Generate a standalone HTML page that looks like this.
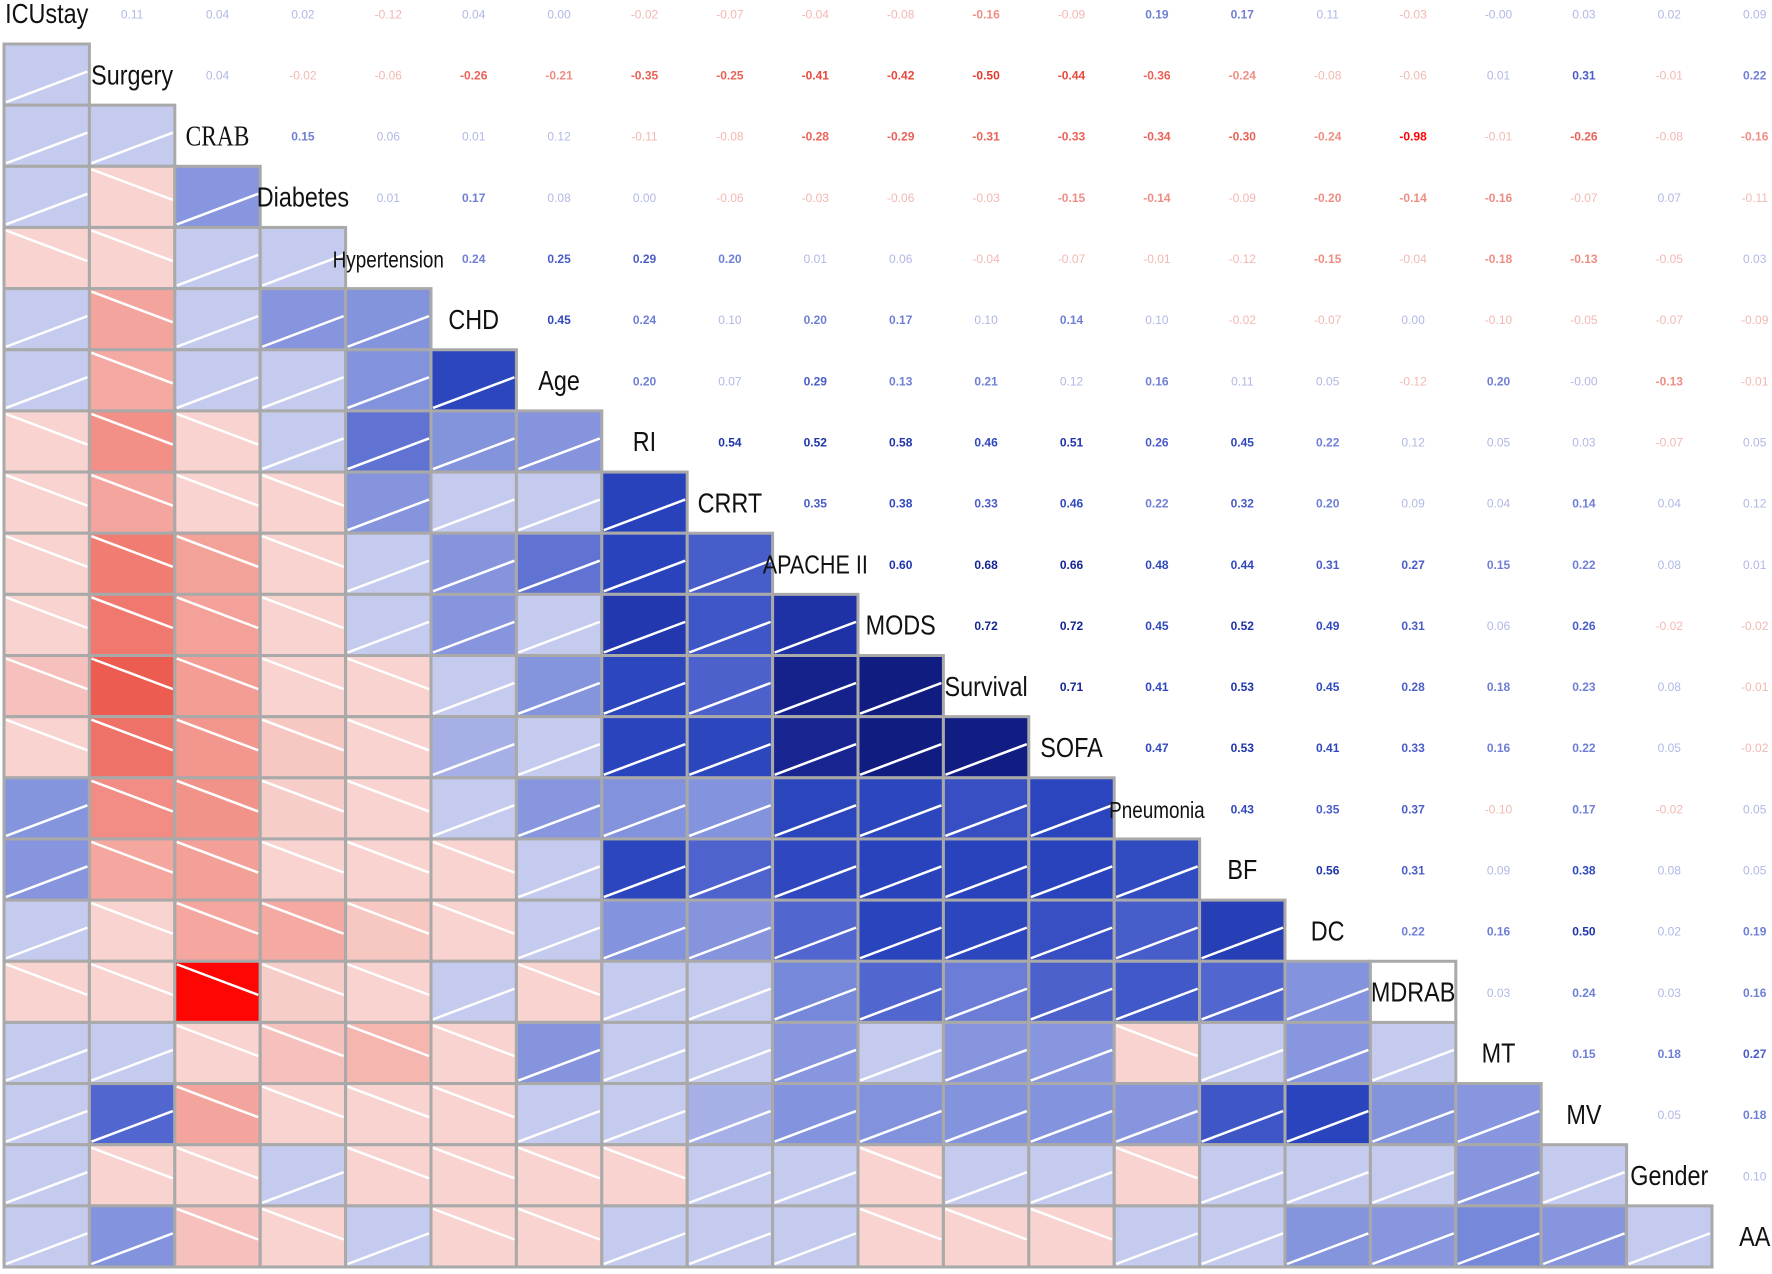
<!DOCTYPE html>
<html><head><meta charset="utf-8"><style>
html,body{margin:0;padding:0;background:#fff;}
svg{display:block;}
</style></head><body>
<svg id="chart" width="1772" height="1274" viewBox="0 0 1772 1274" xmlns="http://www.w3.org/2000/svg">
<rect width="1772" height="1274" fill="#fff"/>
<g id="cells"></g>
<g id="labels"></g>
<g id="values"></g>
</svg>
<script>
const variables = ["ICUstay","Surgery","CRAB","Diabetes","Hypertension","CHD","Age","RI","CRRT","APACHE II","MODS","Survival","SOFA","Pneumonia","BF","DC","MDRAB","MT","MV","Gender","AA"];
const rowICUstay = [0.11,0.04,0.02,-0.12,0.04,0.00,-0.02,-0.07,-0.04,-0.08,-0.16,-0.09,0.19,0.17,0.11,-0.03,-0.00,0.03,0.02,0.09];
const rowSurgery = [0.04,-0.02,-0.06,-0.26,-0.21,-0.35,-0.25,-0.41,-0.42,-0.50,-0.44,-0.36,-0.24,-0.08,-0.06,0.01,0.31,-0.01,0.22];
const rowCRAB = [0.15,0.06,0.01,0.12,-0.11,-0.08,-0.28,-0.29,-0.31,-0.33,-0.34,-0.30,-0.24,-0.98,-0.01,-0.26,-0.08,-0.16];
const rowDiabetes = [0.01,0.17,0.08,0.00,-0.06,-0.03,-0.06,-0.03,-0.15,-0.14,-0.09,-0.20,-0.14,-0.16,-0.07,0.07,-0.11];
const rowHypertension = [0.24,0.25,0.29,0.20,0.01,0.06,-0.04,-0.07,-0.01,-0.12,-0.15,-0.04,-0.18,-0.13,-0.05,0.03];
const rowCHD = [0.45,0.24,0.10,0.20,0.17,0.10,0.14,0.10,-0.02,-0.07,0.00,-0.10,-0.05,-0.07,-0.09];
const rowAge = [0.20,0.07,0.29,0.13,0.21,0.12,0.16,0.11,0.05,-0.12,0.20,-0.00,-0.13,-0.01];
const rowRI = [0.54,0.52,0.58,0.46,0.51,0.26,0.45,0.22,0.12,0.05,0.03,-0.07,0.05];
const rowCRRT = [0.35,0.38,0.33,0.46,0.22,0.32,0.20,0.09,0.04,0.14,0.04,0.12];
const rowAPACHE = [0.60,0.68,0.66,0.48,0.44,0.31,0.27,0.15,0.22,0.08,0.01];
const rowMODS = [0.72,0.72,0.45,0.52,0.49,0.31,0.06,0.26,-0.02,-0.02];
const rowSurvival = [0.71,0.41,0.53,0.45,0.28,0.18,0.23,0.08,-0.01];
const rowSOFA = [0.47,0.53,0.41,0.33,0.16,0.22,0.05,-0.02];
const rowPneumonia = [0.43,0.35,0.37,-0.10,0.17,-0.02,0.05];
const rowBF = [0.56,0.31,0.09,0.38,0.08,0.05];
const rowDC = [0.22,0.16,0.50,0.02,0.19];
const rowMDRAB = [0.03,0.24,0.03,0.16];
const rowMT = [0.15,0.18,0.27];
const rowMV = [0.05,0.18];
const rowGender = [0.10];
const upperRows = [rowICUstay,rowSurgery,rowCRAB,rowDiabetes,rowHypertension,rowCHD,rowAge,rowRI,rowCRRT,rowAPACHE,rowMODS,rowSurvival,rowSOFA,rowPneumonia,rowBF,rowDC,rowMDRAB,rowMT,rowMV,rowGender];

const X0 = 4, CW = 85.4, Y0 = 44, RH = 61.15;
const NS = "http://www.w3.org/2000/svg";
function xOf(col){ return X0 + col*CW; }
function yOf(v){ return Y0 + (v-1)*RH; }
function corr(i,j){ if(i===j) return 1; const a=Math.min(i,j), b=Math.max(i,j); return upperRows[a][b-a-1]; }
const blueStops = [[0,[197,203,238]],[0.13,[197,203,238]],[0.15,[135,150,222]],[0.26,[130,146,220]],[0.3,[84,104,208]],[0.45,[44,70,190]],[0.55,[40,66,188]],[0.62,[28,43,156]],[0.75,[14,23,120]],[1,[0,8,90]]];
const redStops = [[0,[248,211,207]],[0.13,[248,211,207]],[0.2,[244,170,163]],[0.3,[243,160,152]],[0.4,[240,128,118]],[0.5,[236,92,80]],[0.9,[250,30,20]],[1,[255,0,0]]];
function interp(stops,v){
  for(let k=1;k<stops.length;k++){
    if(v<=stops[k][0]){ const [a,ca]=stops[k-1],[b,cb]=stops[k]; const t=(v-a)/(b-a);
      return 'rgb('+ca.map((c,i)=>Math.round(c+(cb[i]-c)*t)).join(',')+')'; }
  }
  return 'rgb('+stops[stops.length-1][1].join(',')+')';
}
function color(r){ return r>=0?interp(blueStops,r):interp(redStops,-r); }
function textColor(r){ const a=Math.abs(r); const b=Math.min(7,Math.floor(a/0.125)); if(r>=0) return ["#b0b8e6","#6f7fd6","#4a5cc8","#2f48bf","#1f34aa","#162595","#0c167c","#000a60"][b]; return ["#f3b8b2","#ef8d84","#ea6257","#e8473b","#e6382c","#ee2a1e","#f51d14","#ff0000"][b]; }

const cells = document.getElementById('cells');
for(let v=1; v<variables.length; v++){
  for(let c=0; c<v; c++){
    const r = corr(v,c);
    const x = xOf(c), y = yOf(v);
    const rect = document.createElementNS(NS,'rect');
    rect.setAttribute('x',x); rect.setAttribute('y',y); rect.setAttribute('width',CW); rect.setAttribute('height',RH);
    rect.setAttribute('fill',color(r)); rect.setAttribute('stroke','#a9a9a9'); rect.setAttribute('stroke-width','3');
    
    
    cells.appendChild(rect);
    const ln = document.createElementNS(NS,'line');
    if(r>=0){ ln.setAttribute('x1',x+2); ln.setAttribute('y1',y+RH-3); ln.setAttribute('x2',x+CW-2); ln.setAttribute('y2',y+RH*0.45); }
    else { ln.setAttribute('x1',x+2); ln.setAttribute('y1',y+3); ln.setAttribute('x2',x+CW-2); ln.setAttribute('y2',y+RH*0.55); }
    ln.setAttribute('stroke','#ffffff'); ln.setAttribute('stroke-width','2.5');
    
    
    cells.appendChild(ln);
  }
}
const labels = document.getElementById('labels');
const sizes = {"Hypertension":21,"Pneumonia":21,"APACHE II":24};
variables.forEach((name,i)=>{
  if(name==="MDRAB"){
    const bx=document.createElementNS(NS,'rect');
    bx.setAttribute('x',xOf(i)); bx.setAttribute('y',yOf(i)); bx.setAttribute('width',CW); bx.setAttribute('height',RH);
    bx.setAttribute('fill','#fff'); bx.setAttribute('stroke','#a9a9a9'); bx.setAttribute('stroke-width','3');
    
    
    labels.appendChild(bx);
  }
  const cx = xOf(i)+CW/2, cy = yOf(i)+RH/2;
  const t = document.createElementNS(NS,'text');
  t.setAttribute('x', cx); t.setAttribute('y', cy+9);
  t.setAttribute('text-anchor','middle');
  t.setAttribute('font-family', name==="CRAB" ? '"Liberation Serif", serif' : '"Liberation Sans", sans-serif');
  t.setAttribute('font-size', sizes[name]||26);
  t.setAttribute('fill','#111');
  t.setAttribute('transform','translate('+cx+','+cy+') scale(0.9,1.08) translate('+(-cx)+','+(-cy)+')');
  
  
  t.textContent = name;
  labels.appendChild(t);
});
const vals = document.getElementById('values');
upperRows.forEach((row,i)=>{
  row.forEach((r,k)=>{
    const j = i+k+1;
    const t = document.createElementNS(NS,'text');
    t.setAttribute('x', xOf(j)+CW/2); t.setAttribute('y', yOf(i)+RH/2+5);
    t.setAttribute('text-anchor','middle');
    t.setAttribute('font-family','"Liberation Sans", sans-serif');
    t.setAttribute('font-size', 12);
    if(Math.abs(r)>=0.125) t.setAttribute('font-weight','bold');
    t.setAttribute('fill', textColor(r));
    
    
    t.textContent = (r<0||Object.is(r,-0)?'-':'') + Math.abs(r).toFixed(2);
    vals.appendChild(t);
  });
});
</script>
</body></html>
